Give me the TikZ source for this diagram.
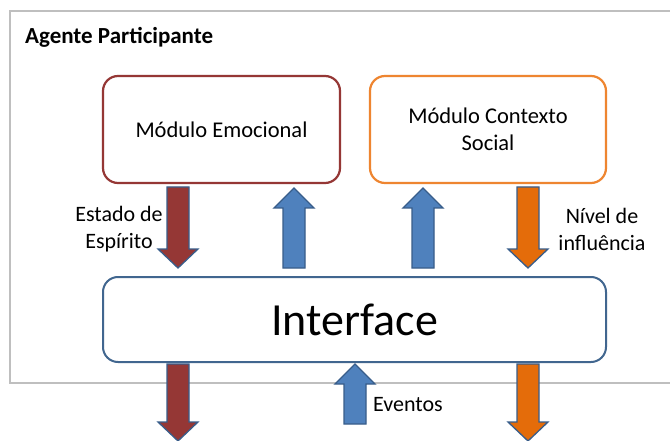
\documentclass[tikz,border=0pt]{standalone}
\usepackage{fontspec}
\setmainfont{Carlito}
\definecolor{emoc}{HTML}{953735}
\definecolor{socc}{HTML}{EE8530}
\definecolor{intc}{HTML}{41668F}
\definecolor{redf}{HTML}{953735}
\definecolor{bluef}{HTML}{4F81BD}
\definecolor{orangef}{HTML}{E46C0A}
\definecolor{arrline}{HTML}{385D8A}
\definecolor{framec}{HTML}{BFBFBF}
\tikzset{
  module/.style={draw, line width=2.2pt, rounded corners=15pt, fill=white, align=center, font=\fontsize{22.5}{27}\selectfont},
  arrline/.style={draw=arrline, line width=1.3pt, line join=miter},
  lbl/.style={font=\fontsize{22}{27}\selectfont, inner sep=0pt}
}
\newcommand\blkdown[4]{%
  \filldraw[arrline, fill=#1] (#2-11,#3) -- (#2+11,#3) -- (#2+11,#4-19) -- (#2+20,#4-19) -- (#2,#4) -- (#2-20,#4-19) -- (#2-11,#4-19) -- cycle;}
\newcommand\blkup[4]{%
  \filldraw[arrline, fill=#1] (#2-11,#3) -- (#2+11,#3) -- (#2+11,#4+20) -- (#2+20,#4+20) -- (#2,#4) -- (#2-20,#4+20) -- (#2-11,#4+20) -- cycle;}
\begin{document}
\begin{tikzpicture}[x=1pt,y=-1pt]
\useasboundingbox (0,0) rectangle (670,441);
\clip (0,0) rectangle (670,441);
\fill[white] (0,0) rectangle (670,441);
\draw[framec, line width=2pt] (10,11) rectangle (700,383);
\node[anchor=west, font=\fontsize{23}{27}\selectfont\bfseries, inner sep=0pt] (title) at (25,37) {Agente Participante};
\node[module, draw=emoc, minimum width=237pt, minimum height=107pt] (emo) at (221.5,129.5) {Módulo Emocional};
\node[module, draw=socc, minimum width=236pt, minimum height=107pt] (soc) at (488,129.5) {Módulo Contexto\\Social};
\node[module, draw=intc, line width=2pt, minimum width=503pt, minimum height=85pt, font=\fontsize{46}{52}\selectfont] (iface) at (354.5,319.5) {Interface};
% arrows between modules and interface
\blkdown{redf}{178}{187}{268}
\blkup{bluef}{294}{268}{188}
\blkup{bluef}{423}{268}{188}
\blkdown{orangef}{528}{187}{268}
% arrows below interface
\blkdown{redf}{178}{364}{441}
\blkup{bluef}{355}{424}{364}
\blkdown{orangef}{528}{364}{441}
% labels
\node[lbl, align=center] (estado) at (119,229) {Estado de\\Espírito};
\node[lbl, align=center] (nivel) at (602,229) {Nível de\\influência};
\node[lbl, anchor=west] (eventos) at (373,405) {Eventos};
\end{tikzpicture}
\end{document}
